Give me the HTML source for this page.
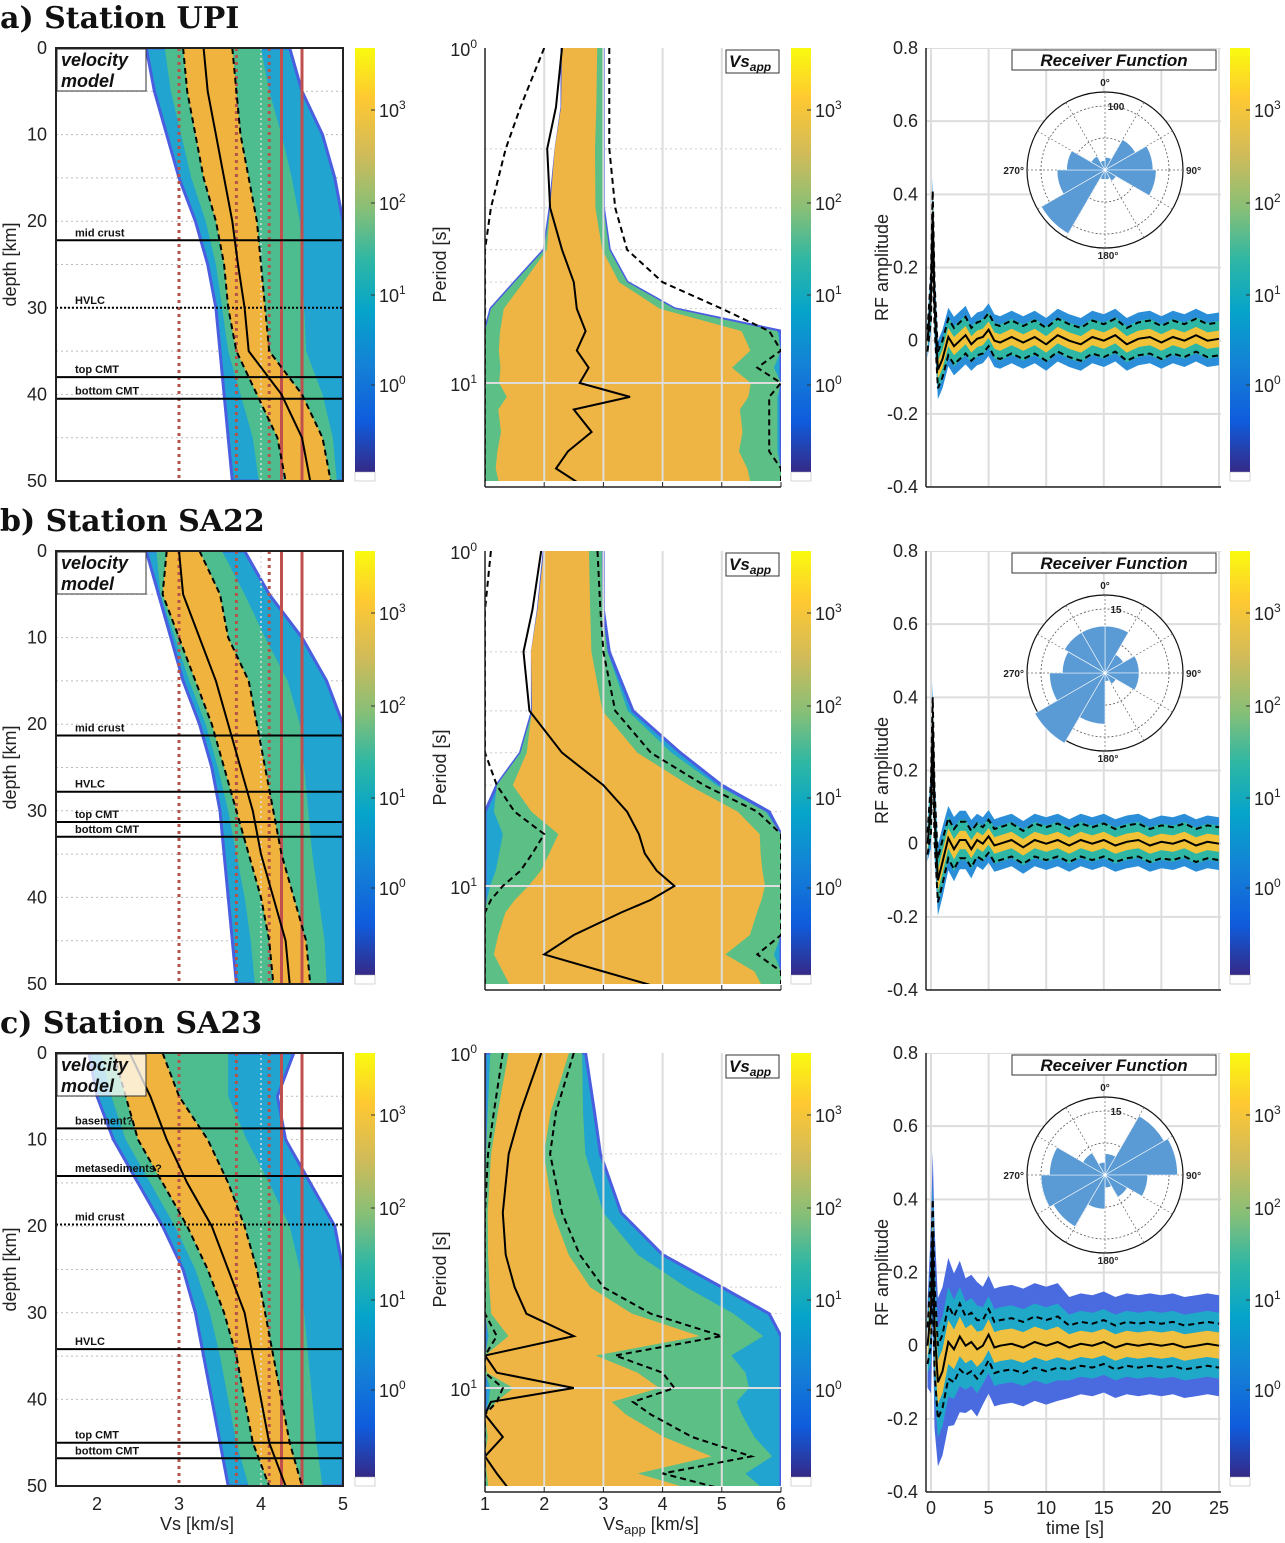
<!DOCTYPE html>
<html><head><meta charset="utf-8"><title>Station inversion results</title>
<style>
html,body{margin:0;padding:0;background:#fff;}
svg{display:block;font-family:"Liberation Sans","DejaVu Sans",sans-serif;}
</style></head>
<body>
<svg id="fig" xmlns="http://www.w3.org/2000/svg" width="1285" height="1543" viewBox="0 0 1285 1543">
<defs>
<linearGradient id="parula" x1="0" y1="1" x2="0" y2="0">
<stop offset="0" stop-color="#352a87"/><stop offset="0.12" stop-color="#0f5cdd"/><stop offset="0.25" stop-color="#1481d6"/>
<stop offset="0.38" stop-color="#06a4ca"/><stop offset="0.5" stop-color="#2eb7a4"/><stop offset="0.62" stop-color="#87bf77"/>
<stop offset="0.75" stop-color="#d1bb59"/><stop offset="0.88" stop-color="#fec832"/><stop offset="1" stop-color="#f9fb0e"/>
</linearGradient>
</defs>
</svg>
<script>
// ---------- shared axes data ----------
const depths = [0,5,10,15,20,25,30,35,40,45,50];
const periods = [1,1.5,2,3,4,5,6,7,8,9,10,11,12,14,16,18,20];
const times = [-0.3,0,0.15,0.3,0.6,1,1.5,2,2.5,3,3.5,4,4.5,5,5.5,6,7,8,9,10,11,12,13,14,15,16,17,18,19,20,21,22,23,24,25];
const refDotted = [3.0,3.7,4.1];
const refSolid = [4.25,4.5];
const depthTicks = [0,10,20,30,40,50];
const vsTicks = [2,3,4,5];
const vsappTicks = [1,2,3,4,5,6];
const timeTicks = [0,5,10,15,20,25];
const rfTicks = [0.8,0.6,0.4,0.2,0,-0.2,-0.4];
const stationTitles = ["a) Station UPI","b) Station SA22","c) Station SA23"];

// ---------- row a (UPI) ----------
const velMedA = [3.3,3.35,3.45,3.55,3.65,3.72,3.8,3.85,4.25,4.5,4.6];
const velLoA = [3.05,3.1,3.2,3.3,3.45,3.55,3.6,3.7,3.95,4.2,4.3];
const velHiA = [3.65,3.7,3.75,3.85,3.95,4.0,4.05,4.1,4.5,4.75,4.85];
const velMinA = [2.6,2.7,2.85,3.0,3.2,3.35,3.45,3.5,3.55,3.6,3.65];
const velMaxA = [4.35,4.5,4.75,4.9,5,5,5,5,5,5,5];
const ifDepthA = [22.2,30,38,40.5];
const ifNameA = ["mid crust","HVLC","top CMT","bottom CMT"];
const ifDashA = [0,1,0,0];
const dMedA = [2.3,2.2,2.05,2.1,2.3,2.5,2.55,2.7,2.55,2.75,2.6,3.45,2.5,2.8,2.4,2.2,2.6];
const dLoA = [2.0,1.6,1.35,1.1,1.0,1.0,1.0,1.0,1.0,1.0,1.0,1.0,1.0,1.0,1.0,1.0,1.0];
const dHiA = [3.1,3.1,3.1,3.2,3.4,4.0,5.0,5.8,6,5.6,6,5.8,5.8,5.8,5.8,6,6];
const dMinA = [2.3,2.3,2.2,2.1,2.0,1.5,1.1,1.0,1.0,1.0,1.0,1.0,1.0,1.0,1.0,1.0,1.0];
const dMaxA = [3.0,3.0,3.0,3.0,3.1,3.4,4.2,6,6,6,6,6,6,6,6,6,6];
const rfMedA = [0,0.12,0.35,0.1,-0.08,-0.05,0.01,-0.015,0.0,0.015,-0.01,0.005,0.01,0.03,0.0,-0.005,0.01,-0.005,0.01,-0.01,0.015,0.0,-0.01,0.01,0.0,0.015,-0.01,0.005,0.01,-0.005,0.01,0.0,0.015,0.0,0.005];
const rfSprA = [0.03,0.06,0.06,0.06,0.05,0.05,0.05,0.05,0.05,0.05,0.045,0.045,0.045,0.045,0.045,0.045,0.045,0.045,0.045,0.045,0.045,0.045,0.045,0.045,0.045,0.045,0.045,0.045,0.045,0.045,0.045,0.045,0.045,0.045,0.045];
const roseA = [20,55,75,80,20,15,15,115,75,60,25,15];
const roseRingA = 100;

// ---------- row b (SA22) ----------
const velMedB = [3.0,3.05,3.25,3.45,3.6,3.75,3.9,4.0,4.15,4.3,4.35];
const velLoB = [2.85,2.8,3.0,3.2,3.4,3.55,3.7,3.85,4.0,4.1,4.15];
const velHiB = [3.25,3.5,3.6,3.85,3.95,4.05,4.15,4.25,4.4,4.55,4.6];
const velMinB = [2.6,2.75,2.9,3.05,3.25,3.4,3.5,3.55,3.6,3.65,3.7];
const velMaxB = [3.8,4.1,4.5,4.8,5,5,5,5,5,5,5];
const ifDepthB = [21.3,27.8,31.3,33];
const ifNameB = ["mid crust","HVLC","top CMT","bottom CMT"];
const ifDashB = [0,0,0,0];
const dMedB = [1.95,1.8,1.65,1.75,2.3,3.0,3.4,3.6,3.7,3.9,4.2,3.8,3.3,2.5,2.0,3.0,3.9];
const dLoB = [1.1,1.0,1.0,1.0,1.0,1.2,1.5,2.0,1.8,1.6,1.3,1.1,1.0,1.0,1.0,1.0,1.0];
const dHiB = [2.9,2.95,3.0,3.2,3.8,4.7,5.6,6,6,6,6,6,6,6,5.6,6,6];
const dMinB = [2.0,1.9,1.8,1.8,1.6,1.2,1.0,1.0,1.0,1.0,1.0,1.0,1.0,1.0,1.0,1.0,1.0];
const dMaxB = [3.0,3.0,3.1,3.5,4.3,5.0,5.8,6,6,6,6,6,6,6,6,6,6];
const rfMedB = [0,0.1,0.33,0.08,-0.1,-0.05,0.015,-0.015,0.01,0.01,-0.015,0.01,0.0,0.02,-0.005,0.0,0.01,-0.01,0.01,0.0,0.01,-0.005,0.01,0.0,0.01,-0.005,0.005,0.01,-0.005,0.005,0.0,0.01,-0.005,0.005,0.0];
const rfSprB = [0.03,0.07,0.07,0.07,0.06,0.06,0.055,0.055,0.05,0.05,0.05,0.045,0.045,0.045,0.045,0.045,0.045,0.045,0.045,0.045,0.045,0.045,0.045,0.045,0.045,0.045,0.045,0.045,0.045,0.045,0.045,0.045,0.045,0.045,0.045];
const roseB = [11,5,8,8,3,2,12,19,13,10,11,11];
const roseRingB = 15;

// ---------- row c (SA23) ----------
const velMedC = [2.4,2.65,2.85,3.1,3.4,3.6,3.8,3.9,4.0,4.1,4.3];
const velLoC = [2.2,2.35,2.5,2.8,3.1,3.35,3.55,3.7,3.8,3.9,4.1];
const velHiC = [2.8,3.0,3.35,3.6,3.8,3.95,4.05,4.15,4.25,4.35,4.5];
const velMinC = [1.9,2.0,2.2,2.5,2.8,3.05,3.2,3.3,3.4,3.5,3.6];
const velMaxC = [4.4,4.2,4.3,4.6,4.9,5,5,5,5,5,5];
const ifDepthC = [8.7,14.2,19.8,34.2,45,46.8];
const ifNameC = ["basement?","metasediments?","mid crust","HVLC","top CMT","bottom CMT"];
const ifDashC = [0,0,1,0,0,0];
const dMedC = [1.95,1.6,1.4,1.3,1.35,1.5,1.7,2.5,1.0,1.2,2.5,1.1,1.0,1.3,1.0,1.2,1.4];
const dLoC = [1.3,1.15,1.05,1.0,1.0,1.0,1.0,1.2,1.0,1.0,1.3,1.2,1.0,1.0,1.0,1.0,1.0];
const dHiC = [2.5,2.2,2.1,2.3,2.6,3.0,3.8,5.0,3.2,4.0,4.2,3.5,3.8,4.5,5.5,4.0,5.0];
const dMinC = [1,1,1,1,1,1,1,1,1,1,1,1,1,1,1,1,1];
const dMaxC = [2.7,2.85,2.95,3.3,4.0,5.0,5.8,6,6,6,6,6,6,6,6,6,6];
const rfMedC = [0,0.1,0.3,0.05,-0.1,-0.07,0.01,-0.01,0.025,0.0,0.01,-0.01,0.0,0.03,-0.005,0.0,0.005,-0.005,0.01,0.0,0.01,-0.005,0.005,0.0,0.01,-0.005,0.005,0.0,0.005,0.0,0.005,-0.005,0.0,0.005,0.0];
const rfSprC = [0.05,0.1,0.1,0.12,0.1,0.1,0.1,0.09,0.09,0.08,0.08,0.08,0.07,0.07,0.07,0.07,0.07,0.07,0.07,0.07,0.07,0.06,0.06,0.06,0.06,0.06,0.06,0.06,0.06,0.06,0.06,0.06,0.06,0.06,0.06];
const roseC = [5,16,17,10,6,3,8,14,15,13,6,3];
const roseRingC = 15;

// ---------- drawing ----------
const NS = "http://www.w3.org/2000/svg";
const svg = document.getElementById('fig');
function el(tag, attrs, name, parent){
  const e = document.createElementNS(NS, tag);
  for (const k in attrs) e.setAttribute(k, attrs[k]);
  
  
  (parent || svg).appendChild(e);
  return e;
}
function txt(x, y, s, attrs, name, parent){
  const e = el('text', Object.assign({x:x, y:y, 'font-size':18, fill:'#222'}, attrs), name, parent);
  e.textContent = s;
  return e;
}
function pow10(x, y, ex, name, parent, anchor){
  const e = el('text', {x:x, y:y, 'font-size':18, fill:'#222', 'text-anchor':anchor||'start'}, name, parent);
  const a = document.createElementNS(NS,'tspan'); a.textContent = '10'; e.appendChild(a);
  const b = document.createElementNS(NS,'tspan'); b.setAttribute('dy','-8'); b.setAttribute('font-size','12'); b.textContent = ex; e.appendChild(b);
  return e;
}
function lin(d0,d1,r0,r1){ return v => r0 + (v-d0)*(r1-r0)/(d1-d0); }
function pathOf(xs, ys){ return xs.map((x,i)=>(i?'L':'M')+x.toFixed(1)+' '+ys[i].toFixed(1)).join(' '); }
function bandPath(lo, hi, ys, fx){
  const a = lo.map((v,i)=>[fx(v), ys[i]]);
  const b = hi.map((v,i)=>[fx(v), ys[i]]).reverse();
  return 'M' + a.concat(b).map(p=>p[0].toFixed(1)+' '+p[1].toFixed(1)).join(' L') + ' Z';
}
function bandPathH(lo, hi, xs, fy){
  const a = lo.map((v,i)=>[xs[i], fy(v)]);
  const b = hi.map((v,i)=>[xs[i], fy(v)]).reverse();
  return 'M' + a.concat(b).map(p=>p[0].toFixed(1)+' '+p[1].toFixed(1)).join(' L') + ' Z';
}
function colorbar(x, T, name){
  const g = el('g', {}, name);
  el('rect', {x:x, y:T, width:20, height:424, fill:'url(#parula)'}, 'colorbar-gradient', g);
  el('rect', {x:x, y:T+424, width:20, height:9, fill:'#fff', stroke:'#aaa', 'stroke-width':0.5}, 'colorbar-bottom', g);
  const offs = [62,155,247,337], ex = ['3','2','1','0'];
  offs.forEach((o,i)=>{
    el('line', {x1:x+16, x2:x+20, y1:T+o, y2:T+o, stroke:'#333'}, 'colorbar-tick', g);
    pow10(x+24, T+o+7, ex[i], 'colorbar-tick-label', g);
  });
}

const rows = [
 {T:48, med:velMedA, lo:velLoA, hi:velHiA, mn:velMinA, mx:velMaxA, ifd:ifDepthA, ifn:ifNameA, ifdash:ifDashA,
  dmed:dMedA, dlo:dLoA, dhi:dHiA, dmn:dMinA, dmx:dMaxA, rf:rfMedA, rfs:rfSprA, rose:roseA, ring:roseRingA, ringLabel:'100'},
 {T:551, med:velMedB, lo:velLoB, hi:velHiB, mn:velMinB, mx:velMaxB, ifd:ifDepthB, ifn:ifNameB, ifdash:ifDashB,
  dmed:dMedB, dlo:dLoB, dhi:dHiB, dmn:dMinB, dmx:dMaxB, rf:rfMedB, rfs:rfSprB, rose:roseB, ring:roseRingB, ringLabel:'15'},
 {T:1053, med:velMedC, lo:velLoC, hi:velHiC, mn:velMinC, mx:velMaxC, ifd:ifDepthC, ifn:ifNameC, ifdash:ifDashC,
  dmed:dMedC, dlo:dLoC, dhi:dHiC, dmn:dMinC, dmx:dMaxC, rf:rfMedC, rfs:rfSprC, rose:roseC, ring:roseRingC, ringLabel:'15'}
];

rows.forEach((R, r) => {
  const T = R.T, B = T + 433;
  const row = el('g', {}, 'station-row-' + 'abc'[r]);
  txt(0, T - 20, stationTitles[r], {'font-family':'"DejaVu Serif","Liberation Serif",serif','font-weight':'bold','font-size':30,fill:'#111'}, 'station-title', row);

  // ===== Panel 1: velocity model =====
  const p1 = el('g', {}, 'velocity-panel', row);
  const xv = lin(1.5, 5, 56, 343), yd = lin(0, 50, T, B);
  const clip1 = el('clipPath', {id:'c1'+r}, 'clip', p1);
  el('rect', {x:56, y:T, width:287, height:433}, 'clip-rect', clip1);
  const g1 = el('g', {'clip-path':'url(#c1'+r+')'}, 'velocity-plot-area', p1);
  for (let d=5; d<50; d+=5) el('line', {x1:56, x2:343, y1:yd(d), y2:yd(d), stroke:'#bbb', 'stroke-dasharray':'2,3'}, 'depth-gridline', g1);
  const ys = depths.map(yd);
  el('path', {d:bandPath(R.mn, R.mx, ys, xv), fill:'#21a4cf', stroke:'#4a5ee0', 'stroke-width':3}, 'velocity-density-outer', g1);
  const midLo = R.mn.map((v,i)=>(v+R.lo[i])/2), midHi = R.mx.map((v,i)=>(v+R.hi[i])/2);
  el('path', {d:bandPath(midLo, midHi, ys, xv), fill:'#4dbd8f'}, 'velocity-density-mid', g1);
  el('path', {d:bandPath(R.lo, R.hi, ys, xv), fill:'#f0b33e'}, 'velocity-density-core', g1);
  refDotted.forEach(v => el('line', {x1:xv(v), x2:xv(v), y1:T, y2:B, stroke:'#b5524a', 'stroke-width':3, 'stroke-dasharray':'3,4'}, 'reference-velocity-dotted', g1));
  el('line', {x1:xv(4.0), x2:xv(4.0), y1:T, y2:B, stroke:'#ddd', 'stroke-width':1.5, 'stroke-dasharray':'2,3'}, 'reference-velocity-grey', g1);
  refSolid.forEach(v => el('line', {x1:xv(v), x2:xv(v), y1:T, y2:B, stroke:'#c0504d', 'stroke-width':3}, 'reference-velocity-solid', g1));
  el('path', {d:pathOf(R.lo.map(xv), ys), fill:'none', stroke:'#000', 'stroke-width':2, 'stroke-dasharray':'6,4'}, 'velocity-lower-bound', g1);
  el('path', {d:pathOf(R.hi.map(xv), ys), fill:'none', stroke:'#000', 'stroke-width':2, 'stroke-dasharray':'6,4'}, 'velocity-upper-bound', g1);
  el('path', {d:pathOf(R.med.map(xv), ys), fill:'none', stroke:'#000', 'stroke-width':2}, 'velocity-median', g1);
  R.ifd.forEach((d,i) => {
    const a = {x1:56, x2:343, y1:yd(d), y2:yd(d), stroke:'#000', 'stroke-width':2};
    if (R.ifdash[i]) a['stroke-dasharray'] = '2,2';
    el('line', a, 'interface-line', g1);
    txt(75, yd(d)-4, R.ifn[i], {'font-size':11, 'font-weight':'bold', fill:'#111'}, 'interface-label', g1);
  });
  el('rect', {x:57, y:T+1, width:89, height:42, fill:'#fff', 'fill-opacity':r==2?0.75:1, stroke:'#333'}, 'legend-box', p1);
  txt(61, T+18, 'velocity', {'font-size':18,'font-weight':'bold','font-style':'italic',fill:'#111'}, 'legend-text', p1);
  txt(61, T+39, 'model', {'font-size':18,'font-weight':'bold','font-style':'italic',fill:'#111'}, 'legend-text', p1);
  el('rect', {x:56, y:T, width:287, height:433, fill:'none', stroke:'#222', 'stroke-width':2}, 'velocity-frame', p1);
  depthTicks.forEach(d => txt(47, yd(d)+6, String(d), {'text-anchor':'end'}, 'depth-tick-label', p1));
  txt(16, (T+B)/2, 'depth [km]', {'text-anchor':'middle', transform:'rotate(-90 16 '+((T+B)/2)+')'}, 'y-axis-title', p1);
  if (r==2) {
    vsTicks.forEach(v => txt(xv(v), B+24, String(v), {'text-anchor':'middle'}, 'vs-tick-label', p1));
    txt(197, B+44, 'Vs [km/s]', {'text-anchor':'middle'}, 'x-axis-title', p1);
  }
  colorbar(355, T, 'velocity-colorbar');

  // ===== Panel 2: dispersion =====
  const p2 = el('g', {}, 'dispersion-panel', row);
  const xp = lin(1, 6, 485, 781), yp = P => T + Math.log10(P)*335;
  const clip2 = el('clipPath', {id:'c2'+r}, 'clip', p2);
  el('rect', {x:485, y:T, width:296, height:433}, 'clip-rect', clip2);
  const g2 = el('g', {'clip-path':'url(#c2'+r+')'}, 'dispersion-plot-area', p2);
  [2,3,4,5,6,7,8,9,20].forEach(P => el('line', {x1:485, x2:781, y1:yp(P), y2:yp(P), stroke:'#ccc', 'stroke-dasharray':'2,3'}, 'period-gridline', g2));
  const pys = periods.map(yp);
  el('path', {d:bandPath(R.dmn, R.dmx, pys, xp), fill:'#21a4cf', stroke:'#4a5ee0', 'stroke-width':3}, 'dispersion-density-outer', g2);
  const cLo = R.dmn.map((v,i)=>Math.max(v, R.dlo[i])), cHi = R.dmx.map((v,i)=>Math.min(v, R.dhi[i]));
  const dmLo = R.dmn.map((v,i)=>v + 0.3*(cLo[i]-v)), dmHi = R.dmx.map((v,i)=>v - 0.3*(v-cHi[i]));
  el('path', {d:bandPath(dmLo, dmHi, pys, xp), fill:'#5cbf86'}, 'dispersion-density-mid', g2);
  const coLo = cLo.map((v,i)=>v + 0.15*(R.dmed[i]-v)), coHi = cHi.map((v,i)=>v - 0.15*(v-R.dmed[i]));
  el('path', {d:bandPath(coLo, coHi, pys, xp), fill:'#efb544'}, 'dispersion-density-core', g2);
  [2,3,4,5].forEach(v => el('line', {x1:xp(v), x2:xp(v), y1:T, y2:B, stroke:'#ddd', 'stroke-width':2}, 'vsapp-gridline', g2));
  el('line', {x1:485, x2:781, y1:yp(10), y2:yp(10), stroke:'#ddd', 'stroke-width':2}, 'period-gridline-major', g2);
  el('path', {d:pathOf(R.dlo.map(xp), pys), fill:'none', stroke:'#000', 'stroke-width':2, 'stroke-dasharray':'6,4'}, 'dispersion-lower-bound', g2);
  el('path', {d:pathOf(R.dhi.map(xp), pys), fill:'none', stroke:'#000', 'stroke-width':2, 'stroke-dasharray':'6,4'}, 'dispersion-upper-bound', g2);
  el('path', {d:pathOf(R.dmed.map(xp), pys), fill:'none', stroke:'#000', 'stroke-width':2}, 'dispersion-median', g2);
  el('rect', {x:726, y:T+2, width:53, height:23, fill:'#fff', stroke:'#333'}, 'vsapp-box', p2);
  const vb = txt(729, T+19, 'Vs', {'font-size':17,'font-weight':'bold','font-style':'italic',fill:'#111'}, 'vsapp-label', p2);
  const sub = document.createElementNS(NS,'tspan'); sub.setAttribute('dy','4'); sub.setAttribute('font-size','12'); sub.textContent='app'; vb.appendChild(sub);
  el('line', {x1:485, x2:485, y1:T, y2:B+6, stroke:'#222', 'stroke-width':1.5}, 'dispersion-y-axis', p2);
  el('line', {x1:485, x2:781, y1:B+6, y2:B+6, stroke:'#222', 'stroke-width':1.5}, 'dispersion-x-axis', p2);
  vsappTicks.forEach(v => el('line', {x1:xp(v), x2:xp(v), y1:B+1, y2:B+6, stroke:'#222'}, 'x-tick', p2));
  pow10(477, T+8, '0', 'period-tick-label', p2, 'end');
  pow10(477, yp(10)+8, '1', 'period-tick-label', p2, 'end');
  txt(446, (T+B)/2, 'Period [s]', {'text-anchor':'middle', transform:'rotate(-90 446 '+((T+B)/2)+')'}, 'y-axis-title', p2);
  if (r==2) {
    vsappTicks.forEach(v => txt(xp(v), B+24, String(v), {'text-anchor':'middle'}, 'vsapp-tick-label', p2));
    const xt2 = txt(603, B+44, 'Vs', {}, 'x-axis-title', p2);
    const s2 = document.createElementNS(NS,'tspan'); s2.setAttribute('dy','4'); s2.setAttribute('font-size','13'); s2.textContent='app'; xt2.appendChild(s2);
    const s3 = document.createElementNS(NS,'tspan'); s3.setAttribute('dy','-4'); s3.textContent=' [km/s]'; xt2.appendChild(s3);
  }
  colorbar(791, T, 'dispersion-colorbar');

  // ===== Panel 3: receiver function =====
  const p3 = el('g', {}, 'receiver-function-panel', row);
  const xt = lin(0, 25, 931, 1219), ya = lin(0.8, -0.4, T, T+439);
  const clip3 = el('clipPath', {id:'c3'+r}, 'clip', p3);
  el('rect', {x:926, y:T, width:295, height:439}, 'clip-rect', clip3);
  const g3 = el('g', {'clip-path':'url(#c3'+r+')'}, 'rf-plot-area', p3);
  timeTicks.forEach(t => el('line', {x1:xt(t), x2:xt(t), y1:T, y2:T+439, stroke:'#ddd', 'stroke-width':2}, 'time-gridline', g3));
  rfTicks.forEach(v => el('line', {x1:926, x2:1221, y1:ya(v), y2:ya(v), stroke:'#ddd', 'stroke-width':2}, 'amplitude-gridline', g3));
  const txs = times.map(xt);
  const k = r==2 ? [2.3,1.5,0.6] : [1.6,1.1,0.5];
  const cols = r==2 ? ['#4a6be0','#20a8c8','#f0c040'] : ['#2a8fd8','#2eb7a4','#f2c238'];
  const names = ['rf-density-outer','rf-density-mid','rf-density-core'];
  k.forEach((f,j) => {
    const lo = R.rf.map((v,i)=>v - R.rfs[i]*f), hi = R.rf.map((v,i)=>v + R.rfs[i]*f);
    el('path', {d:bandPathH(lo, hi, txs, ya), fill:cols[j]}, names[j], g3);
  });
  el('path', {d:pathOf(txs, R.rf.map((v,i)=>ya(v - R.rfs[i]))), fill:'none', stroke:'#000', 'stroke-width':2, 'stroke-dasharray':'6,4'}, 'rf-lower-bound', g3);
  el('path', {d:pathOf(txs, R.rf.map((v,i)=>ya(v + R.rfs[i]))), fill:'none', stroke:'#000', 'stroke-width':2, 'stroke-dasharray':'6,4'}, 'rf-upper-bound', g3);
  el('path', {d:pathOf(txs, R.rf.map(ya)), fill:'none', stroke:'#000', 'stroke-width':2}, 'rf-median', g3);
  el('line', {x1:926, x2:926, y1:T, y2:T+439, stroke:'#222', 'stroke-width':1.5}, 'rf-y-axis', p3);
  el('line', {x1:926, x2:1221, y1:T+439, y2:T+439, stroke:'#222', 'stroke-width':1.5}, 'rf-x-axis', p3);
  rfTicks.forEach(v => txt(918, ya(v)+6, String(v), {'text-anchor':'end'}, 'amplitude-tick-label', p3));
  txt(888, ya(0.2), 'RF amplitude', {'text-anchor':'middle', transform:'rotate(-90 888 '+ya(0.2)+')'}, 'y-axis-title', p3);
  el('rect', {x:1012, y:T+2, width:204, height:20, fill:'#fff', stroke:'#333'}, 'rf-title-box', p3);
  txt(1114, T+18, 'Receiver Function', {'text-anchor':'middle','font-size':17,'font-weight':'bold','font-style':'italic',fill:'#111'}, 'rf-title', p3);
  if (r==2) {
    timeTicks.forEach(t => txt(xt(t), T+461, String(t), {'text-anchor':'middle'}, 'time-tick-label', p3));
    txt(1075, T+481, 'time [s]', {'text-anchor':'middle'}, 'x-axis-title', p3);
  }
  const cx = 1105, cy = T + 122, rad = 78, ringPx = 64;
  const rose = el('g', {}, 'back-azimuth-rose', p3);
  el('circle', {cx:cx, cy:cy, r:rad, fill:'#fff', stroke:'#111', 'stroke-width':1.2}, 'rose-circle', rose);
  [ringPx/2, ringPx].forEach(rr => el('circle', {cx:cx, cy:cy, r:rr, fill:'none', stroke:'#555', 'stroke-width':0.8, 'stroke-dasharray':'2,2'}, 'rose-ring', rose));
  for (let a=0; a<360; a+=30) {
    const th = a*Math.PI/180;
    el('line', {x1:cx, y1:cy, x2:cx+rad*Math.sin(th), y2:cy-rad*Math.cos(th), stroke:'#666', 'stroke-width':0.7, 'stroke-dasharray':'2,2'}, 'rose-spoke', rose);
  }
  R.rose.forEach((v,i) => {
    const rr = v / R.ring * ringPx;
    const a0 = i*30*Math.PI/180, a1 = (i+1)*30*Math.PI/180;
    const d = 'M'+cx+' '+cy+' L'+(cx+rr*Math.sin(a0)).toFixed(1)+' '+(cy-rr*Math.cos(a0)).toFixed(1)+
      ' A'+rr.toFixed(1)+' '+rr.toFixed(1)+' 0 0 1 '+(cx+rr*Math.sin(a1)).toFixed(1)+' '+(cy-rr*Math.cos(a1)).toFixed(1)+' Z';
    el('path', {d:d, fill:'#5b9bd5', stroke:'#fff', 'stroke-width':0.6}, 'rose-petal', rose);
  });
  txt(cx, cy-rad-6, '0°', {'text-anchor':'middle','font-size':10,'font-weight':'bold'}, 'rose-label-north', rose);
  txt(cx+rad+3, cy+4, '90°', {'font-size':10,'font-weight':'bold'}, 'rose-label-east', rose);
  txt(cx+3, cy+rad+11, '180°', {'text-anchor':'middle','font-size':10,'font-weight':'bold'}, 'rose-label-south', rose);
  txt(cx-rad-3, cy+4, '270°', {'text-anchor':'end','font-size':10,'font-weight':'bold'}, 'rose-label-west', rose);
  txt(cx+11, cy-ringPx+4, R.ringLabel, {'text-anchor':'middle','font-size':10,'font-weight':'bold'}, 'rose-ring-label', rose);
  colorbar(1230, T, 'rf-colorbar');
});
</script>
</body></html>
